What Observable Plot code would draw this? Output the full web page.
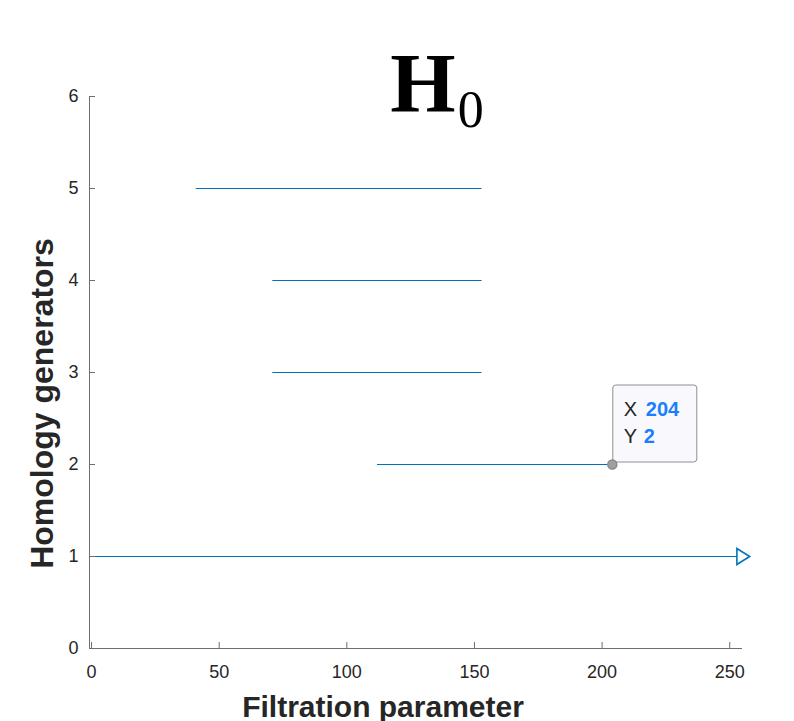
<!DOCTYPE html>
<html><head><meta charset="utf-8">
<script src="https://cdn.jsdelivr.net/npm/d3@7"></script>
<script src="https://cdn.jsdelivr.net/npm/@observablehq/plot@0.6"></script>
<style>body{margin:0;background:#fff} #chart{width:794px;height:721px}</style>
</head><body><div id="chart"></div>
<script>
// ---- data ----
const generators = [1, 2, 3, 4, 5];
const births = [0, 112, 71, 71, 41];
const deaths = [Infinity, 204, 153, 153, 153];
const xTicks = [0, 50, 100, 150, 200, 250];
const yTicks = [0, 1, 2, 3, 4, 5, 6];
const xDomain = [-0.8, 255];
const yDomain = [0, 6];
const titleMain = "H";
const titleSub = "0";
const xLabel = "Filtration parameter";
const yLabel = "Homology generators";
const datatipX = 204;
const datatipY = 2;

// ---- layout / style ----
const W = 794, H = 721, mL = 89, mR = 52, mT = 96, mB = 73;
const innerW = W - mL - mR, innerH = H - mT - mB;
const blue = "#0072BD", axisColor = "#6e6e6e", textColor = "#262626";

const bars = generators.map((g, i) => ({
  gen: g, birth: births[i],
  death: Math.min(deaths[i], xDomain[1]),
  infinite: !isFinite(deaths[i])
}));
const tip = [{x: datatipX, y: datatipY}];

const rightTri = {draw(ctx, size) {
  const r = Math.sqrt(size / Math.PI);
  ctx.moveTo(-0.7 * r, -r); ctx.lineTo(0.9 * r, 0); ctx.lineTo(-0.7 * r, r); ctx.closePath();
}};

const plot = Plot.plot({
  width: W, height: H, marginLeft: mL, marginRight: mR, marginTop: mT, marginBottom: mB,
  style: {fontFamily: "'Liberation Sans', Arial, sans-serif", background: "white", color: textColor},
  x: {domain: xDomain},
  y: {domain: yDomain},
  marks: [
    Plot.ruleY(bars, {y: "gen", x1: "birth", x2: "death", stroke: blue, strokeWidth: 1.2}),
    Plot.dot(bars.filter(d => d.infinite), {x: "death", y: "gen", symbol: rightTri, r: 8, stroke: blue, strokeWidth: 1.6, fill: "white"}),
    Plot.ruleY([yDomain[0]], {stroke: axisColor}),
    Plot.ruleX([xDomain[0]], {stroke: axisColor}),
    Plot.tickX(xTicks, {x: d => d, insetTop: innerH - 6, stroke: axisColor}),
    Plot.tickY(yTicks, {y: d => d, insetRight: innerW - 6, stroke: axisColor}),
    Plot.axisX(xTicks, {tickSize: 0, tickPadding: 17, fontSize: 18, label: null, tickFormat: d => String(d), fill: textColor}),
    Plot.axisY(yTicks, {tickSize: 0, tickPadding: 11, fontSize: 18, label: null, tickFormat: d => String(d), fill: textColor}),
    Plot.text([xLabel], {frameAnchor: "bottom", textAnchor: "middle", dx: -33, dy: 68, lineAnchor: "bottom", text: d => d, fontSize: 30, fontWeight: "bold", fill: textColor}),
    Plot.text([yLabel], {frameAnchor: "left", textAnchor: "middle", rotate: -90, dx: -47, dy: 31, lineAnchor: "middle", text: d => d, fontSize: 32, fontWeight: "bold", fill: textColor}),
    Plot.dot(tip, {x: "x", y: "y", r: 4.5, fill: "#a0a0a0", stroke: "#8a8a8a"})
  ]
});
document.getElementById("chart").appendChild(plot);

// ---- title & datatip annotation ----
const svg = d3.select(plot);
const t = svg.append("text").attr("x", 437).attr("y", 112).attr("text-anchor", "middle")
  .attr("font-family", "'Liberation Serif', 'DejaVu Serif', serif").attr("fill", "#000");
t.append("tspan").attr("font-weight", "bold").attr("font-size", 84).text(titleMain);
t.append("tspan").attr("font-size", 52).attr("dx", 2).attr("dy", 15).text(titleSub);

const sx = plot.scale("x").apply(datatipX), sy = plot.scale("y").apply(datatipY);
const g = svg.append("g").attr("font-family", "'Liberation Sans', Arial, sans-serif")
  .attr("font-size", 20).attr("text-anchor", "start");
g.append("rect").attr("x", sx + 1).attr("y", sy - 79).attr("width", 84).attr("height", 77)
  .attr("rx", 3).attr("fill", "#f9f9fd").attr("stroke", "#8f8f8f").attr("stroke-width", 1);
g.append("text").attr("x", sx + 12).attr("y", sy - 48).attr("fill", textColor).text("X");
g.append("text").attr("x", sx + 34).attr("y", sy - 48).attr("fill", "#1a7fff").attr("font-weight", "bold").text(String(datatipX));
g.append("text").attr("x", sx + 12).attr("y", sy - 21).attr("fill", textColor).text("Y");
g.append("text").attr("x", sx + 32).attr("y", sy - 21).attr("fill", "#1a7fff").attr("font-weight", "bold").text(String(datatipY));
// keep the datatip marker on top of the box edge
svg.node().appendChild(svg.selectAll("g[aria-label='dot']").nodes().slice(-1)[0]);
</script>
</body></html>
